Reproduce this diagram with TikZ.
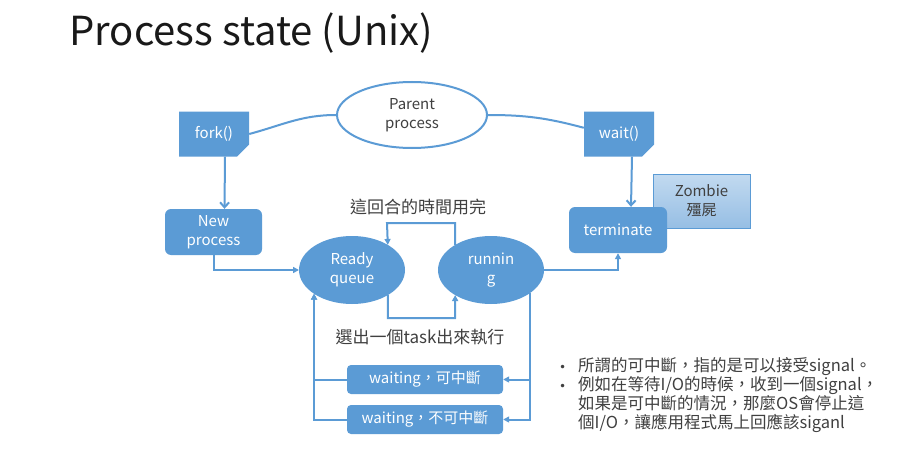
\documentclass[tikz,border=0pt]{standalone}
\usepackage{fontspec}
\setmainfont{Noto Sans CJK TC}
\newfontfamily\bulletfont{DejaVu Sans}
\usepackage{xcolor}
\usetikzlibrary{positioning,shapes.geometric,shapes.misc,arrows.meta}
\definecolor{boxblue}{RGB}{91,155,213}
\definecolor{zombietop}{RGB}{194,218,240}
\definecolor{zombiebot}{RGB}{150,190,228}
\definecolor{darktext}{RGB}{64,64,64}

\begin{document}
\begin{tikzpicture}[x=1pt, y=-1pt,
		every node/.style={font=\fontsize{15}{19}\selectfont, align=center},
		flow/.style={draw=boxblue, line width=2pt},
		tip/.style={-{Triangle[length=6pt,width=6pt]}},
		vtip/.style={-{Straight Barb[length=5pt,width=9pt]}},
		bluebox/.style={fill=boxblue, text=white, rounded corners=6pt, inner sep=0pt},
		cmdbox/.style={chamfered rectangle, chamfered rectangle corners=south east,
			chamfered rectangle xsep=6pt, chamfered rectangle ysep=6pt,
			fill=boxblue, text=white, minimum width=70pt, minimum height=45pt, inner sep=0pt},
		state/.style={ellipse, draw=boxblue, line width=2pt, minimum width=104pt, minimum height=66pt, inner sep=0pt},
		zombie/.style={draw=boxblue, line width=0.8pt, top color=zombietop, bottom color=zombiebot,
			text=darktext, minimum width=97pt, minimum height=54pt, inner sep=0pt},
		caption/.style={font=\fontsize{17}{20}\selectfont, text=darktext}]
		\useasboundingbox[fill=white] (0,0) rectangle (900,460);
		\node[anchor=west, font=\fontsize{40}{44}\selectfont, text=black!90] (title) at (66,33) {Process state (Unix)};
		% parent and the two calls
		\node[state, fill=white, text=darktext, minimum width=150pt] (parent) at (412,115) {Parent\\process};
		\node[cmdbox] (fork) at (214,134) {fork()};
		\node[cmdbox] (wait) at (619,134) {wait()};
		% states
		\node[bluebox, minimum width=97pt, minimum height=46pt] (new) at (213.5,232) {New\\process};
		\node[state, fill=boxblue, text=white] (ready) at (352,270) {Ready\\queue};
		\node[state, fill=boxblue, text=white] (running) at (491,270) {runnin\\g};
		\node[zombie] (zombie) at (701.5,201) {Zombie\\殭屍};
		\node[bluebox, minimum width=98pt, minimum height=46pt] (term) at (618,230) {terminate};
		\node[bluebox, rounded corners=4pt, minimum width=156pt, minimum height=29pt] (w1) at (425,379.5) {waiting，可中斷};
		\node[bluebox, rounded corners=4pt, minimum width=156pt, minimum height=29pt] (w2) at (425,419.5) {waiting，不可中斷};
		% labels
		\node[caption] (slice) at (418,207) {這回合的時間用完};
		\node[caption] (pick) at (420,337) {選出一個task出來執行};
		\node[anchor=north west, align=left, inner sep=0pt, text=darktext, font=\fontsize{16.5}{19}\selectfont] (note) at (559,357)
			{\makebox[19pt][l]{\bulletfont\fontsize{12}{19}\selectfont •}所謂的可中斷，指的是可以接受signal。\\
			\makebox[19pt][l]{\bulletfont\fontsize{12}{19}\selectfont •}例如在等待I/O的時候，收到一個signal，\\
			\hspace*{19pt}如果是可中斷的情況，那麼OS會停止這\\
			\hspace*{19pt}個I/O，讓應用程式馬上回應該siganl};
		% connectors
		\coordinate (slicel) at (387,223);
		\coordinate (pickr) at (455,318);
		\draw[flow] (parent.west) to[out=180, in=15] (fork.east);
		\draw[flow] (parent.east) to[out=0, in=165] (wait.170);
		\draw[flow, vtip] ([xshift=11pt]fork.south) -- ([xshift=11pt]new.north);
		\draw[flow, vtip] ([xshift=13pt]wait.south) -- ([xshift=13pt]term.north);
		\draw[flow, tip] (new.south) |- (ready.west);
		\draw[flow, tip] (running.east) -| (term.south);
		\draw[flow, tip] (running.145) |- (slicel) -- (ready.35);
		\draw[flow, tip] (ready.-35) |- (pickr) -- (running.-145);
		\draw[flow, tip] (running.-30) |- (w1.east);
		\draw[flow, tip] (running.-30) |- (w2.east);
		\draw[flow, tip] (w1.west) -| (ready.-148);
		\draw[flow, tip] (w2.west) -| (ready.-148);
	\end{tikzpicture}
\end{document}
